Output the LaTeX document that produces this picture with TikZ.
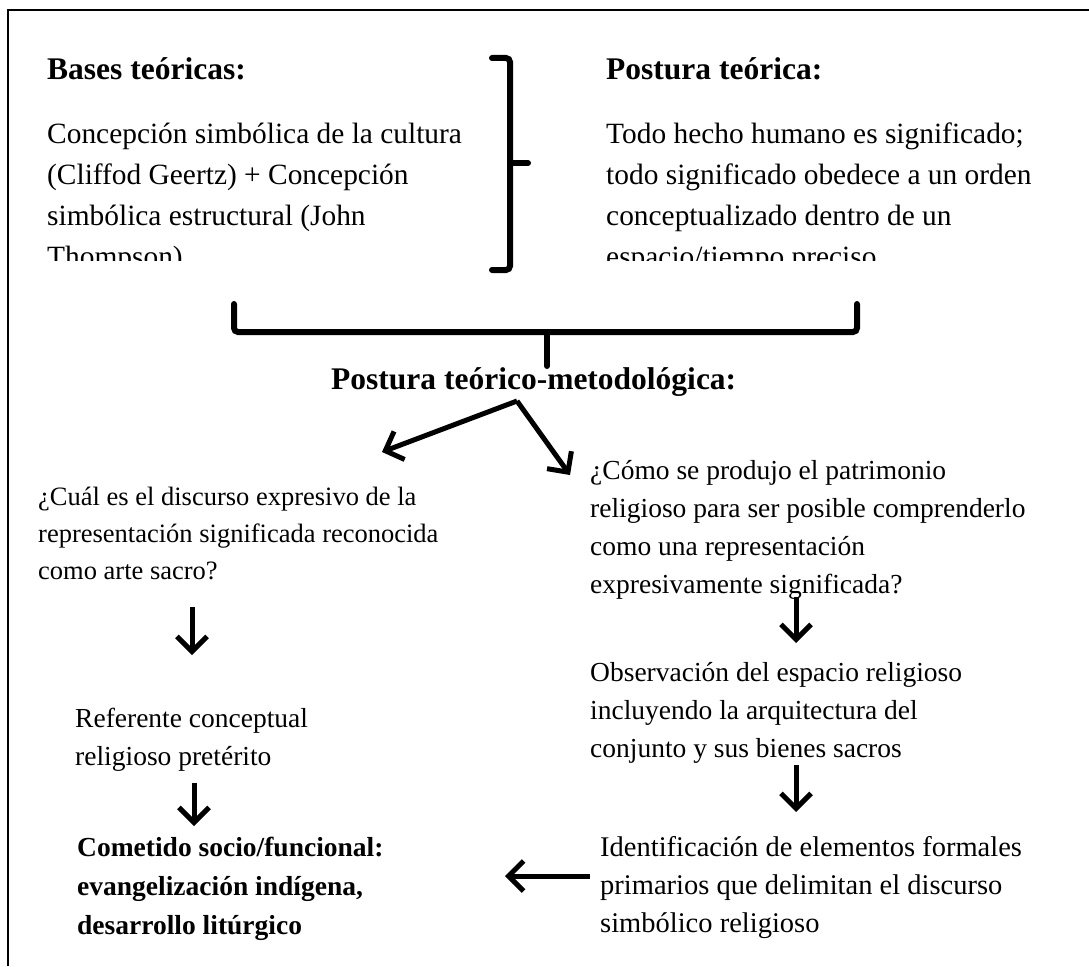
\documentclass[tikz,border=0pt]{standalone}
\usepackage{fontspec}
\setmainfont{Liberation Serif}
\usetikzlibrary{arrows.meta}
\newcommand\mlines[1]{\vtop{\def\\{\egroup\hbox\bgroup}\hbox\bgroup#1\egroup}}
\begin{document}
\begin{tikzpicture}[x=1pt,y=-1pt,
  body/.style={anchor=base west, inner sep=0pt, font=\fontsize{27.5}{38}\selectfont},
  bodytop/.style={anchor=base west, inner sep=0pt, font=\fontsize{29.4}{41}\selectfont},
  ttl/.style={anchor=base west, inner sep=0pt, font=\fontsize{31.5}{38}\selectfont\bfseries},
  bld/.style={anchor=base west, inner sep=0pt, font=\fontsize{27.5}{39}\selectfont\bfseries},
  arr/.style={line width=5pt, -{Straight Barb[length=15pt,width=30pt]}},
  brk/.style={line width=6pt, line cap=round, rounded corners=4pt},
  frame/.style={line width=2.7pt}]
\useasboundingbox (0,0) rectangle (1089,966);
\fill[white] (0,0) rectangle (1089,966);
% frame
\coordinate (ftr) at (1089,10);
\coordinate (ftl) at (8,10);
\coordinate (fbl) at (8,966);
\draw[frame] (ftr) -- (ftl) -- (fbl);

% top titles
\node[ttl] (bases) at (47,79) {Bases teóricas:};
\node[ttl] (postura) at (606,79) {Postura teórica:};

% clipped top texts
\begin{scope}
\clip (0,0) rectangle (1089,260);
\node[bodytop] (basestxt) at (47,143) {\mlines{Concepción simbólica de la cultura\\(Cliffod Geertz) + Concepción\\simbólica estructural (John\\Thompson)}};
\node[bodytop] (posturatxt) at (606,143) {\mlines{Todo hecho humano es significado;\\todo significado obedece a un orden\\conceptualizado dentro de un\\espacio/tiempo preciso}};
\end{scope}

% right bracket
\coordinate (bt) at (492,58);
\coordinate (bb) at (492,270);
\coordinate (bm) at (510,163);
\coordinate (bmt) at (528,163);
\draw[brk] (bt) -- (510,58) -- (510,270) -- (bb);
\draw[brk] (bm) -- (bmt);

% horizontal brace
\coordinate (hl) at (234,304);
\coordinate (hr) at (857,304);
\coordinate (hm) at (547,366);
\draw[brk] (hl) -- (234,332) -- (857,332) -- (hr);
\draw[brk] (547,332) -- (hm);

\node[ttl] (metod) at (331,389) {Postura teórico-metodológica:};

% branching arrows
\coordinate (apex) at (517,401);
\coordinate (lt) at (382,452);
\coordinate (rt) at (570,475);
\draw[arr] (apex) -- (lt);
\draw[arr] (apex) -- (rt);

% left column
\node[body, font=\fontsize{26.5}{37}\selectfont] (q1) at (38,505) {\mlines{¿Cuál es el discurso expresivo de la\\representación significada reconocida\\como arte sacro?}};
\coordinate (a1s) at (192,607);
\coordinate (a1e) at (192,655);
\draw[arr] (a1s) -- (a1e);
\node[body] (ref) at (75,727) {\mlines{Referente conceptual\\religioso pretérito}};
\coordinate (a2s) at (194,783);
\coordinate (a2e) at (194,826);
\draw[arr] (a2s) -- (a2e);
\node[bld] (comet) at (77,856) {\mlines{Cometido socio/funcional:\\evangelización indígena,\\desarrollo litúrgico}};

% right column
\node[body] (q2) at (590,479) {\mlines{¿Cómo se produjo el patrimonio\\religioso para ser posible comprenderlo\\como una representación\\expresivamente significada?}};
\coordinate (a3s) at (796,597);
\coordinate (a3e) at (796,643);
\draw[arr] (a3s) -- (a3e);
\node[body] (obs) at (590,681) {\mlines{Observación del espacio religioso\\incluyendo la arquitectura del\\conjunto y sus bienes sacros}};
\coordinate (a4s) at (796,765);
\coordinate (a4e) at (796,812);
\draw[arr] (a4s) -- (a4e);
\node[body, font=\fontsize{28.5}{38}\selectfont] (ident) at (600,856) {\mlines{Identificación de elementos formales\\primarios que delimitan el discurso\\simbólico religioso}};
\coordinate (a5s) at (590,876);
\coordinate (a5e) at (505,876);
\draw[arr] (a5s) -- (a5e);
\end{tikzpicture}
\end{document}
